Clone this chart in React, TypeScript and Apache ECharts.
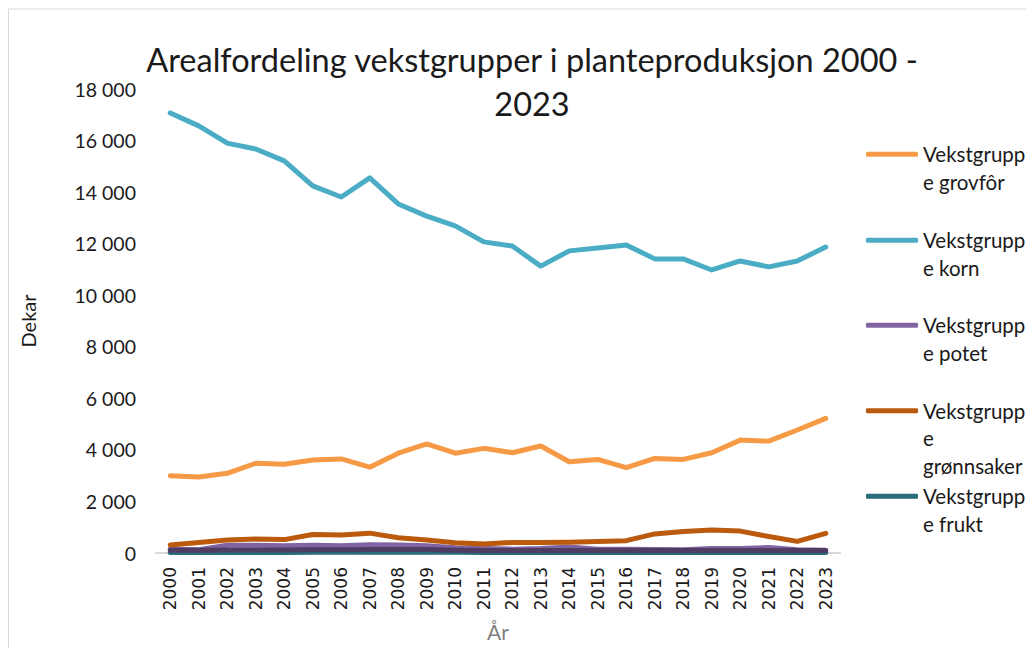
import React, { useEffect, useRef } from "react";
import * as echarts from "echarts";

const years = ["2000","2001","2002","2003","2004","2005","2006","2007","2008","2009","2010","2011","2012","2013","2014","2015","2016","2017","2018","2019","2020","2021","2022","2023"];
const grovfor = [3000, 2950, 3090, 3480, 3440, 3610, 3650, 3330, 3870, 4230, 3870, 4060, 3890, 4150, 3540, 3630, 3310, 3670, 3630, 3890, 4380, 4340, 4770, 5220];
const korn = [17070, 16570, 15900, 15670, 15210, 14240, 13810, 14550, 13540, 13070, 12690, 12070, 11910, 11130, 11720, 11830, 11950, 11410, 11410, 10980, 11330, 11100, 11330, 11870];
const potet = [150, 130, 300, 300, 280, 300, 280, 320, 310, 280, 200, 170, 150, 170, 230, 150, 150, 140, 130, 170, 170, 210, 130, 110];
const gronnsaker = [310, 410, 500, 540, 520, 720, 700, 770, 590, 500, 400, 350, 410, 410, 420, 445, 480, 740, 830, 890, 850, 640, 450, 760];
const frukt = [20, 20, 20, 20, 20, 25, 25, 30, 30, 30, 25, 20, 20, 20, 20, 20, 20, 20, 20, 20, 20, 20, 20, 20];
const baer = [110, 110, 120, 120, 120, 130, 130, 140, 140, 140, 110, 100, 95, 95, 95, 95, 95, 95, 95, 95, 95, 95, 95, 95];

const seriesNames = ["Vekstgruppe grovfôr", "Vekstgruppe korn", "Vekstgruppe potet", "Vekstgruppe grønnsaker", "Vekstgruppe frukt"];
const legendLabels = [" \nVekstgrupp\ne grovfôr", " \nVekstgrupp\ne korn", " \nVekstgrupp\ne potet", " \n \nVekstgrupp\ne\ngrønnsaker", " \nVekstgrupp\ne frukt"];
const legendTops = [105, 191, 276, 334, 447];
const colors = ["#f79a46", "#4bacc6", "#8064a2", "#bb5a0d", "#286c7c"];

const FONT = "Lato";

export default function App() {
  const ref = useRef<HTMLDivElement>(null);
  useEffect(() => {
    if (!ref.current) return;
    const chart = echarts.init(ref.current, null, { renderer: "svg" });
    const dataSets = [grovfor, korn, potet, gronnsaker, frukt];
    const series: any[] = seriesNames.map((n, i) => ({
      name: n,
      type: "line",
      data: dataSets[i],
      showSymbol: false,
      symbol: "none",
      lineStyle: { width: 5, color: colors[i], cap: "round", join: "round" },
      itemStyle: { color: colors[i] },
      z: 2 + i,
    }));
    series.push({
      name: "Vekstgruppe bær",
      type: "line",
      data: baer,
      showSymbol: false,
      symbol: "none",
      lineStyle: { width: 5, color: "#4e3c63", cap: "round", join: "round" },
      itemStyle: { color: "#4e3c63" },
      z: 8,
    });
    chart.setOption({
      animation: false,
      textStyle: { fontFamily: FONT },
      title: {
        text: "Arealfordeling vekstgrupper i planteproduksjon 2000 -\n2023",
        left: 519,
        top: 24,
        textAlign: "center",
        textStyle: { fontFamily: FONT, fontSize: 32.5, fontWeight: "normal", color: "#1a1a1a", lineHeight: 44 },
      },
      legend: seriesNames.map((n, i) => ({
        data: [n],
        left: 858,
        top: legendTops[i],
        padding: 0,
        icon: "roundRect",
        itemWidth: 52,
        itemHeight: 5,
        formatter: () => legendLabels[i],
        textStyle: { fontFamily: FONT, fontSize: 20.5, color: "#1a1a1a", lineHeight: 27.5 },
      })),
      grid: { left: 148, right: 194, top: 81, bottom: 95, containLabel: false, outerBoundsMode: "none" },
      xAxis: {
        type: "category",
        data: years,
        boundaryGap: true,
        axisLine: { lineStyle: { color: "#d9d9d9", width: 2 } },
        axisTick: { show: false },
        axisLabel: { rotate: 90, margin: 14, fontFamily: "DejaVu Sans", fontSize: 17, color: "#1a1a1a", interval: 0 },
        name: "År",
        nameLocation: "middle",
        nameGap: 68,
        nameTextStyle: { fontFamily: FONT, fontSize: 21, color: "#7f7f7f" },
      },
      yAxis: {
        type: "value",
        min: 0,
        max: 18000,
        interval: 2000,
        splitLine: { show: false },
        axisLine: { show: false },
        axisTick: { show: false },
        axisLabel: {
          margin: 20,
          fontFamily: FONT,
          fontSize: 19.5,
          color: "#1a1a1a",
          formatter: (v: number) => String(v).replace(/\B(?=(\d{3})+(?!\d))/g, " "),
        },
        name: "Dekar",
        nameLocation: "middle",
        nameGap: 118,
        nameRotate: 90,
        nameTextStyle: { fontFamily: FONT, fontSize: 20, color: "#1a1a1a" },
      },
      graphic: [
        { type: "line", shape: { x1: 0.5, y1: 1, x2: 1026, y2: 1 }, style: { stroke: "#d9d9d9", lineWidth: 1 } },
        { type: "line", shape: { x1: 0.5, y1: 1, x2: 0.5, y2: 640 }, style: { stroke: "#d9d9d9", lineWidth: 1 } },
      ],
      series,
    });
    return () => chart.dispose();
  }, []);
  return <div ref={ref} style={{ width: 1026, height: 640 }} />;
}
